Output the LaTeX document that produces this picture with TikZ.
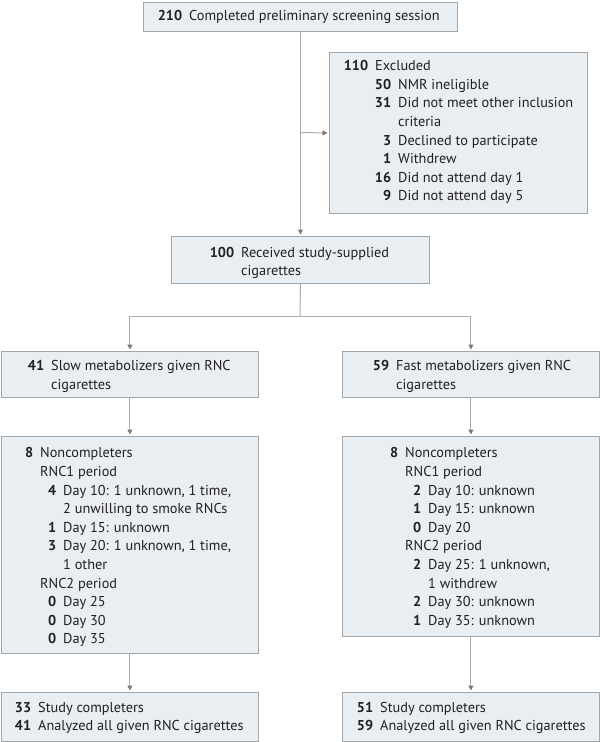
\documentclass[tikz,border=0pt]{standalone}
\usepackage{fontspec}
\setmainfont{PT Sans}
\usetikzlibrary{arrows.meta}
\definecolor{boxfill}{HTML}{E8EEF2}
\definecolor{boxline}{HTML}{A3A6A8}
\definecolor{linegray}{HTML}{ABABAB}
\definecolor{tipgray}{HTML}{7A7A7A}
\definecolor{ink}{HTML}{231F20}
\newcommand{\nm}[1]{\llap{\textbf{#1}\hspace{7pt}}}
\newcommand{\ind}{\hspace*{23pt}}
\newcommand{\fl}{\rule{0pt}{12pt}}
\begin{document}
\begin{tikzpicture}[x=1pt,y=-1pt,
  box/.style={draw=boxline, fill=boxfill, line width=0.9pt, inner sep=0pt, anchor=north west, rectangle},
  txt/.style={anchor=north west, inner sep=0pt, align=left, text=ink, font=\fontsize{14.3}{18.6}\selectfont},
  conn/.style={draw=linegray, line width=1pt},
  arr/.style={conn, shorten >=1.5pt, -{Triangle[length=5pt,width=5pt,color=tipgray]}}
]
\useasboundingbox (0,0) rectangle (600,742);
\fill[white] (0,0) rectangle (600,742);

% boxes
\node[box, minimum width=314pt, minimum height=29pt] (top) at (143,2) {};
\node[box, minimum width=258pt, minimum height=161pt] (excl) at (329,52) {};
\node[box, minimum width=258pt, minimum height=47pt] (recv) at (171,236) {};
\node[box, minimum width=257pt, minimum height=46pt] (slow) at (1,351) {};
\node[box, minimum width=257pt, minimum height=46pt] (fast) at (342,351) {};
\node[box, minimum width=257pt, minimum height=217pt] (nc1) at (1,436) {};
\node[box, minimum width=257pt, minimum height=200pt] (nc2) at (342,436) {};
\node[box, minimum width=257pt, minimum height=49pt] (done1) at (1,692) {};
\node[box, minimum width=257pt, minimum height=49pt] (done2) at (342,692) {};

% texts
\node[txt] (ttop) at (189,8.5) {\fl\nm{210}Completed preliminary screening session};
\node[txt] (texcl) at (375,58.5) {\fl\nm{110}Excluded\\
\ind\nm{50}NMR ineligible\\
\ind\nm{31}Did not meet other inclusion\\
\ind criteria\\
\ind\nm{3}Declined to participate\\
\ind\nm{1}Withdrew\\
\ind\nm{16}Did not attend day 1\\
\ind\nm{9}Did not attend day 5};
\node[txt] (trecv) at (241,245) {\fl\nm{100}Received study-supplied\\cigarettes};
\node[txt] (tslow) at (51,358.5) {\fl\nm{41}Slow metabolizers given RNC\\cigarettes};
\node[txt] (tfast) at (396,358.5) {\fl\nm{59}Fast metabolizers given RNC\\cigarettes};
\node[txt] (tnc1) at (40,445.7) {\fl\nm{8}Noncompleters\\
RNC1 period\\
\ind\nm{4}Day 10: 1 unknown, 1 time,\\
\ind 2 unwilling to smoke RNCs\\
\ind\nm{1}Day 15: unknown\\
\ind\nm{3}Day 20: 1 unknown, 1 time,\\
\ind 1 other\\
RNC2 period\\
\ind\nm{0}Day 25\\
\ind\nm{0}Day 30\\
\ind\nm{0}Day 35};
\node[txt] (tnc2) at (405,445.7) {\fl\nm{8}Noncompleters\\
RNC1 period\\
\ind\nm{2}Day 10: unknown\\
\ind\nm{1}Day 15: unknown\\
\ind\nm{0}Day 20\\
RNC2 period\\
\ind\nm{2}Day 25: 1 unknown,\\
\ind 1 withdrew\\
\ind\nm{2}Day 30: unknown\\
\ind\nm{1}Day 35: unknown};
\node[txt] (tdone1) at (38,700) {\fl\nm{33}Study completers\\
\nm{41}Analyzed all given RNC cigarettes};
\node[txt] (tdone2) at (380,700) {\fl\nm{51}Study completers\\
\nm{59}Analyzed all given RNC cigarettes};

% connectors
\coordinate (j1) at (300,132.5);
\coordinate (j2) at (300,316);
\draw[arr] (top) -- (recv);
\draw[arr] (j1) -- (excl.west);
\draw[conn] (recv.south) -- (j2);
\draw[arr] (j2) -| (slow.north);
\draw[arr] (j2) -| (fast.north);
\draw[arr] (slow) -- (nc1);
\draw[arr] (fast) -- (nc2);
\draw[arr] (nc1) -- (done1);
\draw[arr] (nc2) -- (done2);
\end{tikzpicture}
\end{document}
